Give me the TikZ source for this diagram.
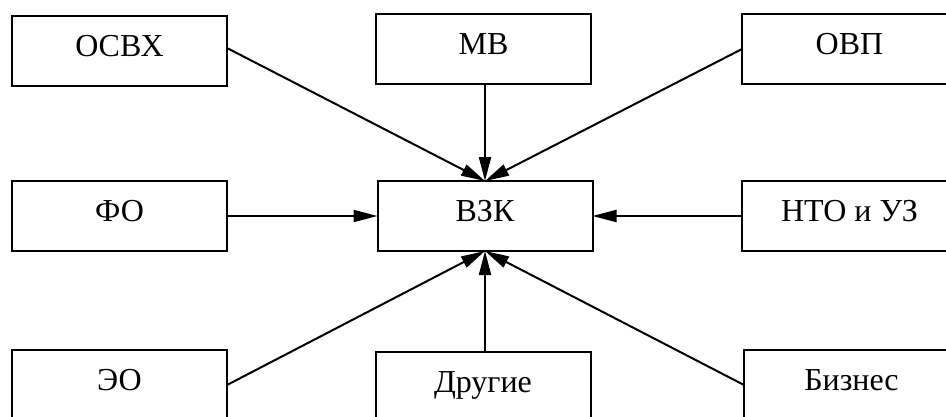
\documentclass[tikz,border=0pt]{standalone}
\usepackage{fontspec}
\setmainfont{Liberation Serif}
\usetikzlibrary{arrows.meta}
\begin{document}
\begin{tikzpicture}[x=1pt,y=-1pt,
  boxnode/.style={draw, line width=2pt, minimum width=215pt, minimum height=70pt,
    inner sep=0pt, outer sep=0pt, text height=40pt, text depth=30pt,
    font=\fontsize{32}{38}\selectfont},
  link/.style={line width=2pt, -{Triangle[length=24pt,width=12pt]}}]
\useasboundingbox (0,0) rectangle (946,416);
\clip (0,0) rectangle (946,416);
\node[boxnode] (osvh) at (119.5,51) {ОСВХ};
\node[boxnode] (mv) at (483.5,49) {МВ};
\node[boxnode] (ovp) at (849.5,49) {ОВП};
\node[boxnode] (fo) at (119.5,216) {ФО};
\node[boxnode] (vzk) at (485,216) {ВЗК};
\node[boxnode] (nto) at (849.5,216) {НТО и УЗ};
\node[boxnode] (eo) at (119.5,385) {ЭО};
\node[boxnode] (dr) at (483,387) {Другие};
\node[boxnode] (biz) at (851.5,385) {Бизнес};
\draw[link] ([yshift=3pt]osvh.east) -- (vzk.north);
\draw[link] (vzk.north |- mv.south) -- (vzk.north);
\draw[link] (ovp.west) -- (vzk.north);
\draw[link] (fo.east) -- (vzk.west);
\draw[link] (nto.west) -- (vzk.east);
\draw[link] (eo.east) -- (vzk.south);
\draw[link] (vzk.south |- dr.north) -- (vzk.south);
\draw[link] (biz.west) -- (vzk.south);
\end{tikzpicture}
\end{document}
